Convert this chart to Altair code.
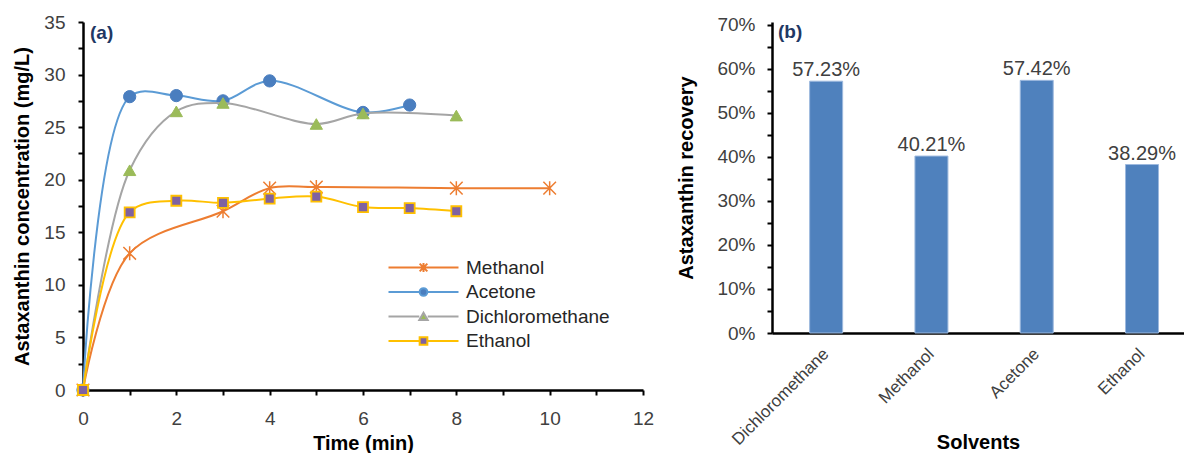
import altair as alt
import pandas as pd

# ---------------- data ----------------
series_names = ["Methanol", "Acetone", "Dichloromethane", "Ethanol"]

methanol_t = [0, 1, 3, 4, 5, 8, 10]
methanol_c = [0, 13.0, 17.0, 19.2, 19.3, 19.2, 19.2]

acetone_t = [0, 1, 2, 3, 4, 6, 7]
acetone_c = [0, 27.9, 28.0, 27.5, 29.4, 26.4, 27.1]

dcm_t = [0, 1, 2, 3, 5, 6, 8]
dcm_c = [0, 20.9, 26.5, 27.3, 25.3, 26.3, 26.1]

ethanol_t = [0, 1, 2, 3, 4, 5, 6, 7, 8]
ethanol_c = [0, 16.9, 18.0, 17.8, 18.2, 18.4, 17.4, 17.3, 17.0]

solvents = ["Dichloromethane", "Methanol", "Acetone", "Ethanol"]
recovery = [0.5723, 0.4021, 0.5742, 0.3829]

# ---------------- styling ----------------
FONT = "Liberation Sans"
LABEL_COLOR = "#404040"

line_colors = ["#ED7D31", "#5B9BD5", "#A5A5A5", "#FFC000"]
marker_fills = ["#ED7D31", "#4A7EBF", "#9BBB59", "#7F62A1"]
marker_strokes = ["#ED7D31", "#4A7EBF", "#9BBB59", "#FFC000"]
asterisk = "M-0.9,-0.9L0.9,0.9M-0.9,0.9L0.9,-0.9M0,-1L0,1"
marker_shapes = [asterisk, "circle", "triangle-up", "square"]
marker_sizes = [196, 150, 150, 100]
marker_filled = [False, True, True, True]
marker_sw = [1.5, 1, 1, 1.8]

# legend symbols: short line with a small marker in the middle
legend_paths = [
    "M-5,0L5,0M-0.55,-0.55L0.55,0.55M-0.55,0.55L0.55,-0.55M0,-0.65L0,0.65",
    "M-5,0L-0.55,0M0.55,0L5,0M0.55,0A0.55,0.55,0,1,1,-0.55,0A0.55,0.55,0,1,1,0.55,0Z",
    "M-5,0L-0.6,0M0.6,0L5,0M0,-0.55L0.6,0.5L-0.6,0.5Z",
    "M-5,0L-0.6,0M0.6,0L5,0M-0.55,-0.55L0.55,-0.55L0.55,0.55L-0.55,0.55Z",
]
legend_fills = ["#ED7D31", "#4A7EBF", "#9BBB59", "#7F62A1"]
legend_strokes = ["#ED7D31", "#5B9BD5", "#A5A5A5", "#FFC000"]

rows = []
for name, ts, cs in [
    ("Methanol", methanol_t, methanol_c),
    ("Acetone", acetone_t, acetone_c),
    ("Dichloromethane", dcm_t, dcm_c),
    ("Ethanol", ethanol_t, ethanol_c),
]:
    for t, c in zip(ts, cs):
        rows.append({"series": name, "time": t, "conc": c})
df = pd.DataFrame(rows)

bar_df = pd.DataFrame({"solvent": solvents, "recovery": recovery})

# ---------------- panel (a) ----------------
x_enc = alt.X(
    "time:Q",
    scale=alt.Scale(domain=[0, 12], nice=False),
    axis=alt.Axis(
        values=list(range(0, 13)),
        labelExpr="datum.value % 2 == 0 ? datum.label : ''",
        labelFlush=False,
        title="Time (min)",
        titleFont=FONT, titleFontSize=20, titleFontWeight="bold", titleColor="black",
        titleY=59, titleBaseline="alphabetic",
        labelFont=FONT, labelFontSize=19, labelColor=LABEL_COLOR, labelPadding=14,
        tickSize=5, tickWidth=2, tickColor="black",
        domainColor="black", domainWidth=2.5, grid=False,
    ),
)
y_enc = alt.Y(
    "conc:Q",
    scale=alt.Scale(domain=[0, 35], nice=False),
    axis=alt.Axis(
        values=[v * 2.5 for v in range(0, 15)],
        labelExpr="datum.value % 5 == 0 ? datum.label : ''",
        labelFlush=False,
        title="Astaxanthin concentration (mg/L)",
        titleFont=FONT, titleFontSize=20, titleFontWeight="bold", titleColor="black",
        titlePadding=11,
        labelFont=FONT, labelFontSize=19, labelColor=LABEL_COLOR, labelPadding=13,
        tickSize=5, tickWidth=2, tickColor="black",
        domainColor="black", domainWidth=2.5, grid=False,
    ),
)

base = alt.Chart(df)
layers = []
for i, name in enumerate(series_names):
    sub = base.transform_filter(alt.datum.series == name)
    layers.append(
        sub.mark_line(color=line_colors[i], strokeWidth=2, interpolate="catmull-rom").encode(
            x=x_enc, y=y_enc, order="time:Q"
        )
    )
    pt_kwargs = dict(shape=marker_shapes[i], size=marker_sizes[i], opacity=1,
                     stroke=marker_strokes[i], strokeWidth=marker_sw[i])
    if marker_filled[i]:
        pt_kwargs.update(filled=True, fill=marker_fills[i])
    else:
        pt_kwargs.update(filled=False)
    layers.append(sub.mark_point(**pt_kwargs).encode(x=x_enc, y=y_enc))

legend_def = alt.Legend(
    title=None, orient="none", legendX=331, legendY=236, padding=0,
    labelFont=FONT, labelFontSize=19, labelColor="#262626", labelOffset=33,
    symbolSize=196, symbolStrokeWidth=2, symbolOpacity=1, rowPadding=4.5,
)
legend_layer = (
    alt.Chart(df)
    .transform_filter("false")
    .mark_point(filled=True, opacity=0)
    .encode(
        shape=alt.Shape("series:N", scale=alt.Scale(domain=series_names, range=legend_paths), legend=legend_def),
        fill=alt.Fill("series:N", scale=alt.Scale(domain=series_names, range=legend_fills), legend=legend_def),
        stroke=alt.Stroke("series:N", scale=alt.Scale(domain=series_names, range=legend_strokes), legend=legend_def),
    )
)

panel_a = alt.layer(*layers, legend_layer).properties(
    width=560,
    height=368,
    title=alt.TitleParams(
        text="(a)", anchor="start", frame="group", orient="top", offset=0,
        dx=7, dy=30, font=FONT, fontSize=19, fontWeight="bold", color="#1F3864",
    ),
)

# ---------------- panel (b) ----------------
xb = alt.X(
    "solvent:N",
    sort=solvents,
    scale=alt.Scale(paddingInner=0.5, paddingOuter=0.2065, align=0.64),
    axis=alt.Axis(
        title="Solvents",
        titleFont=FONT, titleFontSize=20, titleFontWeight="bold", titleColor="black",
        titleY=115, titleBaseline="alphabetic",
        labelAngle=-45, labelAlign="right", labelBaseline="middle",
        labelFont=FONT, labelFontSize=17, labelColor=LABEL_COLOR, labelPadding=18,
        ticks=False, domainColor="black", domainWidth=2.5, grid=False,
    ),
)
yb = alt.Y(
    "recovery:Q",
    scale=alt.Scale(domain=[0, 0.7068], nice=False),
    axis=alt.Axis(
        values=[v * 0.05 for v in range(0, 15)],
        format=".0%",
        labelExpr="round(datum.value * 100) % 10 == 0 ? datum.label : ''",
        labelFlush=False,
        title="Astaxanthin recovery",
        titleFont=FONT, titleFontSize=20, titleFontWeight="bold", titleColor="black",
        titlePadding=20,
        labelFont=FONT, labelFontSize=19, labelColor=LABEL_COLOR, labelPadding=12,
        tickSize=5, tickWidth=2, tickColor="black",
        domainColor="black", domainWidth=2.5, grid=False,
    ),
)

bars = alt.Chart(bar_df).mark_bar(size=33, color="#4F81BD", stroke="#9DB9DE", strokeWidth=1).encode(x=xb, y=yb)
bar_text = (
    alt.Chart(bar_df)
    .transform_calculate(label="format(datum.recovery, '.2%')")
    .mark_text(baseline="alphabetic", dy=-5, font=FONT, fontSize=20, color=LABEL_COLOR)
    .encode(x=xb, y=yb, text="label:N")
)

panel_b = alt.layer(bars, bar_text).properties(
    width=412,
    height=311,
    title=alt.TitleParams(
        text="(b)", anchor="start", frame="group", orient="top", offset=0,
        dx=6, dy=26, font=FONT, fontSize=19, fontWeight="bold", color="#1F3864",
    ),
)

chart = (
    alt.hconcat(panel_a, panel_b, spacing=129, bounds="flush")
    .properties(padding={"left": 12, "top": 13, "right": 0, "bottom": 0}, background="white")
    .configure_view(stroke=None)
)

chart.save("out.html", embed_options={"renderer": "svg", "actions": False})
